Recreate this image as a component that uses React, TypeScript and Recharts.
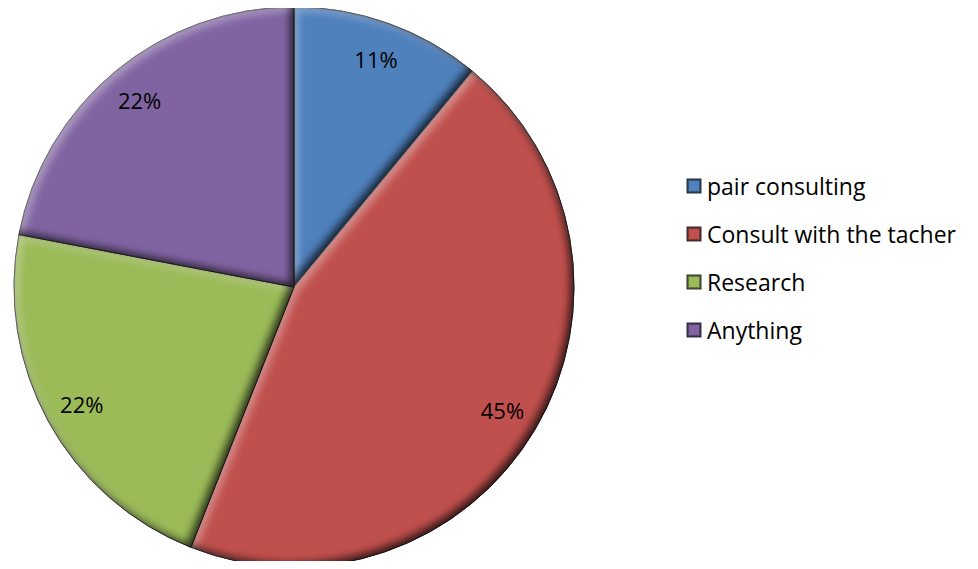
import { PieChart, Pie, Cell, Legend } from 'recharts';

const categories = ['pair consulting', 'Consult with the tacher', 'Research', 'Anything'];
const shares = [11, 45, 22, 22];
const colors = ['#4F81BD', '#C0504D', '#9BBB59', '#8064A2'];

const data = categories.map((name, i) => ({ name, value: shares[i] }));

const RAD = Math.PI / 180;
const FONT = "'Open Sans', Lato, sans-serif";

function renderLabel(props: any) {
  const { cx, cy, midAngle, outerRadius, value } = props;
  const r = outerRadius * 0.865;
  const x = cx + r * Math.cos(-midAngle * RAD);
  const y = cy + r * Math.sin(-midAngle * RAD);
  return (
    <text
      x={x}
      y={y}
      textAnchor="middle"
      dominantBaseline="central"
      fill="#000"
      fontSize={22}
      fontFamily={FONT}
    >
      {value}%
    </text>
  );
}

function LegendBox() {
  return (
    <div style={{ fontFamily: FONT, fontSize: 23, color: '#000' }}>
      {data.map((d, i) => (
        <div key={d.name} style={{ display: 'flex', alignItems: 'center', height: 48 }}>
          <svg width={16} height={16} style={{ marginRight: 5 }}>
            <rect x={1} y={1} width={14} height={14} fill={colors[i]} stroke="#333" strokeWidth={1} />
            <rect x={2} y={2} width={12} height={12} fill="none" stroke="rgba(0,0,0,0.35)" strokeWidth={2} />
            <rect x={4.5} y={4.5} width={7} height={7} fill={colors[i]} />
          </svg>
          <span>{d.name}</span>
        </div>
      ))}
    </div>
  );
}

function bevelFilter(id: string, blur: number, off: number) {
  return (
    <filter id={id} x="-5%" y="-5%" width="110%" height="110%" colorInterpolationFilters="sRGB">
      <feGaussianBlur in="SourceAlpha" stdDeviation={blur} result="blur" />
      <feOffset in="blur" dx={-off} dy={-off} result="offDark" />
      <feFlood floodColor="#000" floodOpacity="0.75" result="black" />
      <feComposite in="black" in2="offDark" operator="out" result="darkMask" />
      <feComposite in="darkMask" in2="SourceAlpha" operator="in" result="darkIn" />
      <feOffset in="blur" dx={off} dy={off} result="offLight" />
      <feFlood floodColor="#fff" floodOpacity="0.4" result="white" />
      <feComposite in="white" in2="offLight" operator="out" result="lightMask" />
      <feComposite in="lightMask" in2="SourceAlpha" operator="in" result="lightIn" />
      <feMerge>
        <feMergeNode in="SourceGraphic" />
        <feMergeNode in="lightIn" />
        <feMergeNode in="darkIn" />
      </feMerge>
    </filter>
  );
}

export default function App() {
  return (
    <div style={{ margin: -8 }}>
      <PieChart width={978} height={569}>
        <defs>{bevelFilter('bevel', 4.5, 4)}</defs>
        <Pie
          data={data}
          dataKey="value"
          nameKey="name"
          cx={289}
          cy={282}
          outerRadius={280}
          startAngle={90}
          endAngle={-270}
          stroke="#2b2b2b"
          strokeWidth={1}
          label={renderLabel}
          labelLine={false}
          isAnimationActive={false}
        >
          {data.map((d, i) => (
            <Cell key={d.name} fill={colors[i]} filter="url(#bevel)" />
          ))}
        </Pie>
        <Legend
          layout="vertical"
          align="right"
          verticalAlign="top"
          content={() => <LegendBox />}
          wrapperStyle={{ position: 'absolute', left: 686, top: 162, width: 290 }}
        />
      </PieChart>
    </div>
  );
}
